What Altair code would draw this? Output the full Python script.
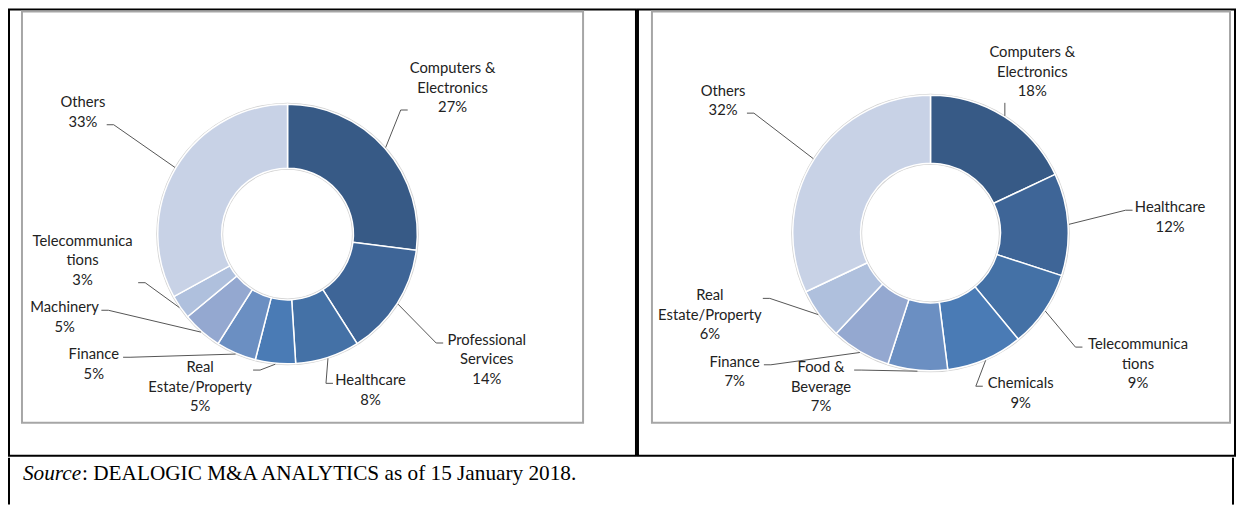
import math
import altair as alt
import pandas as pd

# ---------------- data ----------------
left_categories = ["Computers & Electronics", "Professional Services", "Healthcare",
                   "Real Estate/Property", "Finance", "Machinery", "Telecommunications", "Others"]
left_label_text = ["Computers &\nElectronics", "Professional\nServices", "Healthcare",
                   "Real\nEstate/Property", "Finance", "Machinery", "Telecommunica\ntions", "Others"]
left_values = [27, 14, 8, 5, 5, 5, 3, 33]

right_categories = ["Computers & Electronics", "Healthcare", "Telecommunications", "Chemicals",
                    "Food & Beverage", "Finance", "Real Estate/Property", "Others"]
right_label_text = ["Computers &\nElectronics", "Healthcare", "Telecommunica\ntions", "Chemicals",
                    "Food &\nBeverage", "Finance", "Real\nEstate/Property", "Others"]
right_values = [18, 12, 9, 9, 7, 7, 6, 32]

source_lead = "Source"
source_rest = ": DEALOGIC M&A ANALYTICS as of 15 January 2018."

# ---------------- style ----------------
shades = ["#375a86", "#3e6597", "#4471a6", "#4a7bb5", "#6b8fc2", "#94a8d0", "#afc0dd", "#c8d2e6"]
LABEL_FONT = "Lato"
LABEL_SIZE = 14.8
LINE_H = 19.5
TEXT_COLOR = "#222222"
LEADER_COLOR = "#555555"
SRC_SIZE = 21.3


def text_width(s):
    w = 0.0
    for ch in s:
        if ch in "iljtfr/ .,:;|!'I":
            w += 0.30
        elif ch in "mwMW%":
            w += 0.85
        elif ch.isupper() or ch == "&":
            w += 0.66
        elif ch.isdigit():
            w += 0.58
        else:
            w += 0.52
    return w * LABEL_SIZE


def outline(phi, ax, by, p=4.0):
    s = math.sin(phi)
    c = -math.cos(phi)
    t = 1.0 / ((abs(s) / ax) ** p + (abs(c) / by) ** p) ** (1.0 / p)
    return t * s, t * c


def label_layout(labels, values, r_out, ax, by, bounds, padx=30, pady=8, clear=14):
    """Place outside labels on a rounded box around the donut, sliding them
    off the ring and apart from each other until nothing collides."""
    total = float(sum(values))
    n = len(values)
    mids, cum = [], 0.0
    for v in values:
        mids.append((cum + v / 2.0) / total * 2 * math.pi)
        cum += v
    texts = [lab + "\n" + f"{v}%" for lab, v in zip(labels, values)]
    line_w = [[text_width(t) for t in s.split("\n")] for s in texts]
    nlines = [len(lw) for lw in line_w]
    widths = [max(lw) for lw in line_w]
    heights = [k * LINE_H for k in nlines]
    phi = list(mids)
    step = 0.002
    xmin, xmax, ymin, ymax = bounds

    def pos(i):
        cx, cy = outline(phi[i], ax, by)
        cx = min(max(cx, xmin + widths[i] / 2), xmax - widths[i] / 2)
        cy = min(max(cy, ymin + heights[i] / 2), ymax - heights[i] / 2)
        return cx, cy

    def box(i):
        cx, cy = pos(i)
        return (cx - widths[i] / 2, cx + widths[i] / 2, cy - heights[i] / 2, cy + heights[i] / 2)

    def overlap(p, q):
        return (p[0] < q[1] + padx and q[0] < p[1] + padx and
                p[2] < q[3] + pady and q[2] < p[3] + pady)

    def hits_ring(i):
        cx, cy = pos(i)
        top = cy - heights[i] / 2
        for k, lw in enumerate(line_w[i]):
            x0, x1 = cx - lw / 2, cx + lw / 2
            y0 = top + k * LINE_H
            y1 = y0 + LINE_H
            qx = min(max(0.0, x0), x1)
            qy = min(max(0.0, y0), y1)
            if math.hypot(qx, qy) < r_out + clear:
                return True
        return False

    for _ in range(8000):
        moved = False
        for i in range(n):
            if hits_ring(i):
                s, c = math.sin(phi[i]), -math.cos(phi[i])
                if c > 0:      # lower half: slide away from the bottom
                    phi[i] += step if s < 0 else -step
                else:          # upper half: slide away from the top
                    phi[i] += step if s > 0 else -step
                moved = True
        for i in range(n):
            j = (i + 1) % n
            if overlap(box(i), box(j)):
                phi[i] -= step
                phi[j] += step
                moved = True
        if not moved:
            break

    lab_rows, seg_rows = [], []
    for i in range(n):
        lx, ly = pos(i)
        w, h = widths[i], heights[i]
        px = (r_out + 1) * math.sin(mids[i])
        py = -(r_out + 1) * math.cos(mids[i])
        first = ly - h / 2 + LINE_H / 2 + 2
        last = ly + h / 2 - LINE_H / 2 + 2
        ty = last if ly < py - 40 else first
        if px >= lx + w / 2 - 4:
            ex = lx + w / 2 + 3
            elx = ex + 7
            ey = ty
        elif px <= lx - w / 2 + 4:
            ex = lx - w / 2 - 3
            elx = ex - 7
            ey = ty
        else:
            ex = elx = px
            ey = ly - h / 2 - 1 if ly > py else ly + h / 2 + 1
        # vega draws the first line at y and the following ones below it
        lab_rows.append({"lx": lx, "ly": ly - (nlines[i] - 1) * LINE_H / 2, "text": texts[i]})
        seg_rows.append({"x": ex, "y": ey, "x2": elx, "y2": ey})
        seg_rows.append({"x": elx, "y": ey, "x2": px, "y2": py})
    return pd.DataFrame(lab_rows), pd.DataFrame(seg_rows)


def donut_panel(categories, labels, values, r_in, r_out, ax, by,
                width, height, cx, cy, box_x, box_x2, box_y, box_y2):
    xs = alt.Scale(domain=[-cx, width - cx], nice=False, zero=False)
    ys = alt.Scale(domain=[-cy, height - cy], nice=False, zero=False, reverse=True)
    n = len(values)
    arc_df = pd.DataFrame({"category": categories, "value": values, "idx": list(range(n))})
    bounds = (box_x - cx + 8, box_x2 - cx - 8, box_y - cy + 6, box_y2 - cy - 6)
    lab_df, seg_df = label_layout(labels, values, r_out, ax, by, bounds)
    one = pd.DataFrame({"k": [0]})

    frame = alt.Chart(one).mark_rect(fill="white", fillOpacity=0, stroke="#a6a6a6", strokeWidth=2).encode(
        x=alt.value(box_x), x2=alt.value(box_x2), y=alt.value(box_y), y2=alt.value(box_y2))

    rim = alt.Chart(one).mark_arc(theta=0, theta2=2 * math.pi, innerRadius=r_in - 1.5,
                                  outerRadius=r_out + 1.5, fill="#d2d2d2").encode(
        x=alt.X(datum=0, scale=xs, axis=None), y=alt.Y(datum=0, scale=ys, axis=None))

    arcs = alt.Chart(arc_df).mark_arc(innerRadius=r_in, outerRadius=r_out,
                                      stroke="white", strokeWidth=1.5).encode(
        theta=alt.Theta("value:Q", stack=True),
        order=alt.Order("idx:Q"),
        color=alt.Color("category:N", scale=alt.Scale(domain=categories, range=shades), legend=None),
        x=alt.X(datum=0, scale=xs, axis=None),
        y=alt.Y(datum=0, scale=ys, axis=None),
    )

    leaders = alt.Chart(seg_df).mark_rule(color=LEADER_COLOR, strokeWidth=1).encode(
        x=alt.X("x:Q", scale=xs, axis=None), x2="x2:Q",
        y=alt.Y("y:Q", scale=ys, axis=None), y2="y2:Q")

    texts = alt.Chart(lab_df).mark_text(font=LABEL_FONT, fontSize=LABEL_SIZE, lineBreak="\n",
                                        lineHeight=LINE_H, align="center", baseline="middle",
                                        color=TEXT_COLOR).encode(
        x=alt.X("lx:Q", scale=xs, axis=None), y=alt.Y("ly:Q", scale=ys, axis=None), text="text:N")

    return alt.layer(frame, rim, arcs, leaders, texts).properties(
        width=width, height=height, view=alt.ViewBackground(stroke="black", strokeWidth=2))


TOP_H = 447
left = donut_panel(left_categories, left_label_text, left_values, 66, 130, 228, 158,
                   628, TOP_H, 279, 225, 13, 575, 2, 414)
right = donut_panel(right_categories, right_label_text, right_values, 70, 138, 240, 162,
                    598, TOP_H, 293, 224, 14, 593, 2, 414)

top = alt.hconcat(left, right, spacing=0).resolve_scale(
    x="independent", y="independent", color="independent", theta="independent")

src_df = pd.DataFrame({"lead": [source_lead], "rest": [source_rest]})
lead = alt.Chart(src_df).mark_text(font="Liberation Serif", fontSize=SRC_SIZE, fontStyle="italic",
                                   align="left", baseline="alphabetic", color="black").encode(
    x=alt.value(14), y=alt.value(22), text="lead:N")
rest = alt.Chart(src_df).mark_text(font="Liberation Serif", fontSize=SRC_SIZE,
                                   align="left", baseline="alphabetic", color="black").encode(
    x=alt.value(14 + 2.777 * SRC_SIZE), y=alt.value(22), text="rest:N")
edge_l = alt.Chart(src_df).mark_rule(color="black", strokeWidth=2).encode(
    x=alt.value(0), y=alt.value(0), y2=alt.value(47))
edge_r = alt.Chart(src_df).mark_rule(color="black", strokeWidth=2).encode(
    x=alt.value(1226), y=alt.value(0), y2=alt.value(47))
bottom = alt.layer(edge_l, edge_r, lead, rest).properties(
    width=1226, height=47, view=alt.ViewBackground(strokeOpacity=0))

chart = alt.vconcat(top, bottom, spacing=0).properties(padding=0)

chart.save("out.html", embed_options={"renderer": "svg", "actions": False})
